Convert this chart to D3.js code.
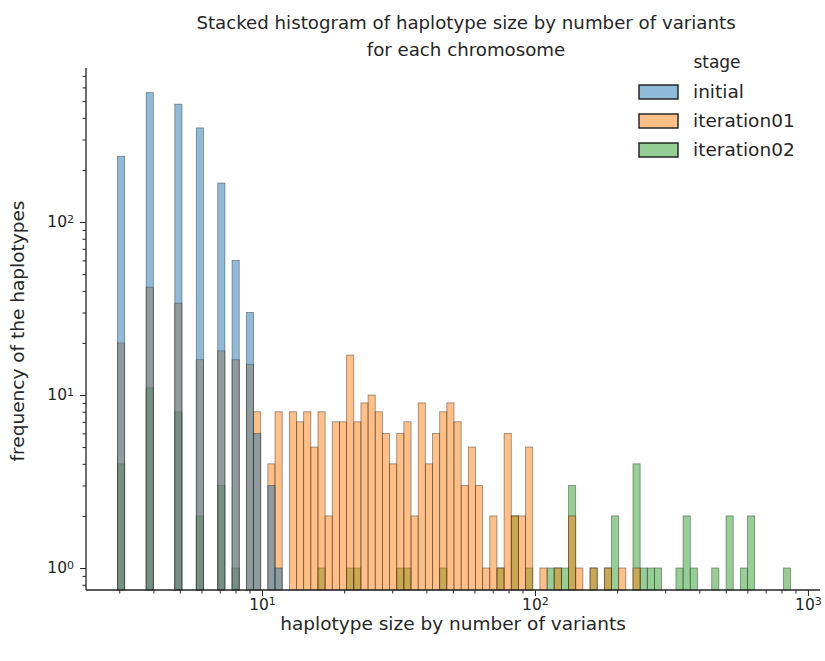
<!DOCTYPE html>
<html lang="en">
<head>
    <meta charset="UTF-8">
    <title>Stacked histogram of haplotype size</title>
    <script src="https://d3js.org/d3.v7.min.js"></script>
    <style>
        body { margin: 0; background: #ffffff; }
        text { font-family: "DejaVu Sans", sans-serif; fill: #262626; }
    </style>
</head>
<body>
<div class="chart"></div>
<script>
    // log-spaced histogram bins (edges in variant count)
    const binLow = 2.956
    const binHigh = 863
    const binCount = 94

    const stages = ['initial', 'iteration01', 'iteration02']
    const stageColors = ['#1f77b4', '#ff7f0e', '#2ca02c']

    // counts per bin (0 = empty bin)
    const initialCounts = [
        240, 0, 0, 0, 560, 0, 0, 0, 480, 0,
        0, 350, 0, 0, 168, 0, 60, 0, 30, 6,
        0, 3, 1, 0, 0, 0, 0, 0, 0, 0,
        0, 0, 0, 0, 0, 0, 0, 0, 0, 0,
        0, 0, 0, 0, 0, 0, 0, 0, 0, 0,
        0, 0, 0, 0, 0, 0, 0, 0, 0, 0,
        0, 0, 0, 0, 0, 0, 0, 0, 0, 0,
        0, 0, 0, 0, 0, 0, 0, 0, 0, 0,
        0, 0, 0, 0, 0, 0, 0, 0, 0, 0,
        0, 0, 0, 0
    ]
    const iteration01Counts = [
        20, 0, 0, 0, 42, 0, 0, 0, 34, 0,
        0, 16, 0, 0, 18, 0, 16, 0, 15, 8,
        0, 4, 8, 0, 8, 7, 8, 5, 8, 2,
        7, 7, 17, 7, 9, 10, 8, 6, 4, 6,
        7, 2, 9, 4, 6, 8, 9, 7, 3, 5,
        3, 1, 2, 1, 6, 2, 2, 5, 0, 1,
        0, 1, 0, 2, 1, 0, 1, 0, 1, 0,
        1, 0, 1, 0, 0, 0, 0, 0, 0, 0,
        0, 0, 0, 0, 0, 0, 0, 0, 0, 0,
        0, 0, 0, 0
    ]
    const iteration02Counts = [
        4, 0, 0, 0, 11, 0, 0, 0, 8, 0,
        0, 2, 0, 0, 3, 0, 1, 0, 0, 0,
        0, 0, 0, 0, 0, 0, 0, 0, 1, 0,
        0, 0, 1, 1, 0, 0, 0, 0, 0, 1,
        1, 0, 0, 0, 0, 1, 0, 0, 0, 0,
        0, 0, 0, 1, 0, 2, 0, 1, 0, 0,
        1, 1, 1, 3, 0, 0, 1, 0, 1, 2,
        0, 0, 4, 1, 1, 1, 0, 0, 1, 2,
        1, 0, 0, 1, 0, 2, 0, 1, 2, 0,
        0, 0, 0, 1
    ]
    const stageCounts = [initialCounts, iteration01Counts, iteration02Counts]

    const xMajorTicks = [10, 100, 1000]
    const yMajorTicks = [1, 10, 100]

    const dimensions = {
        width: 825,
        height: 661,
        left: 86,
        right: 820,
        top: 68,
        bottom: 590
    }

    const svg = d3.select('.chart')
        .append('svg')
        .attr('width', dimensions.width)
        .attr('height', dimensions.height)

    const xScale = d3.scaleLog()
        .domain([2.266, 1107])
        .range([dimensions.left, dimensions.right])
    const yScale = d3.scaleLog()
        .domain([0.746, 777])
        .range([dimensions.bottom, dimensions.top])

    // bin edges, evenly spaced in log space
    const logStep = (Math.log10(binHigh) - Math.log10(binLow)) / binCount
    const binEdge = i => Math.pow(10, Math.log10(binLow) + i * logStep)

    // bars: last stage drawn first so "initial" sits on top
    for (let s = stages.length - 1; s >= 0; s--) {
        const bars = stageCounts[s]
            .map((c, i) => ({ i: i, count: c }))
            .filter(d => d.count > 0)
        svg.append('g')
            .attr('class', 'stage-' + stages[s])
            .selectAll('rect')
            .data(bars)
            .enter()
            .append('rect')
            .attr('x', d => xScale(binEdge(d.i)))
            .attr('width', d => xScale(binEdge(d.i + 1)) - xScale(binEdge(d.i)))
            .attr('y', d => yScale(d.count))
            .attr('height', d => dimensions.bottom - yScale(d.count))
            .attr('fill', stageColors[s])
            .attr('fill-opacity', 0.5)
            .attr('stroke', '#222')
            .attr('stroke-opacity', 0.5)
            .attr('stroke-width', 0.8)
    }

    // minor ticks for a log axis between the domain ends
    function minorTicks(domain) {
        const out = []
        for (let e = Math.floor(Math.log10(domain[0])); e <= Math.ceil(Math.log10(domain[1])); e++) {
            for (let m = 2; m <= 9; m++) {
                const v = m * Math.pow(10, e)
                if (v >= domain[0] && v <= domain[1]) out.push(v)
            }
        }
        return out
    }

    function powerLabel(sel) {
        sel.selectAll('.tick text').each(function (d) {
            const t = d3.select(this).text(null)
            t.append('tspan').text('10')
            t.append('tspan')
                .attr('dy', '-0.45em')
                .style('font-size', '11px')
                .text(Math.round(Math.log10(d)))
        })
    }

    // X axis
    const xAxisG = svg.append('g')
        .attr('transform', 'translate(0,' + dimensions.bottom + ')')
    xAxisG.append('g')
        .call(d3.axisBottom(xScale).tickValues(minorTicks(xScale.domain())).tickSize(3.5).tickFormat(''))
    xAxisG.append('g')
        .call(d3.axisBottom(xScale).tickValues(xMajorTicks).tickSize(6).tickPadding(3))
        .call(powerLabel)
    xAxisG.selectAll('.domain').remove()
    xAxisG.append('line')
        .attr('x1', dimensions.left).attr('x2', dimensions.right)
        .attr('stroke', '#262626').attr('stroke-width', 1.3)

    // Y axis
    const yAxisG = svg.append('g')
        .attr('transform', 'translate(' + dimensions.left + ',0)')
    yAxisG.append('g')
        .call(d3.axisLeft(yScale).tickValues(minorTicks(yScale.domain())).tickSize(3.5).tickFormat(''))
    yAxisG.append('g')
        .call(d3.axisLeft(yScale).tickValues(yMajorTicks).tickSize(6).tickPadding(6))
        .call(powerLabel)
    yAxisG.selectAll('.domain').remove()
    yAxisG.append('line')
        .attr('y1', dimensions.top).attr('y2', dimensions.bottom)
        .attr('stroke', '#262626').attr('stroke-width', 1.3)

    svg.selectAll('.tick line').attr('stroke', '#262626').attr('stroke-width', 1)
    svg.selectAll('.tick text').style('font-size', '15.5px').attr('fill', '#262626')

    // axis labels and title
    svg.append('text')
        .attr('x', 453).attr('y', 630)
        .attr('text-anchor', 'middle')
        .style('font-size', '18.5px')
        .text('haplotype size by number of variants')
    svg.append('text')
        .attr('transform', 'translate(24,331) rotate(-90)')
        .attr('text-anchor', 'middle')
        .style('font-size', '18.5px')
        .text('frequency of the haplotypes')
    svg.append('text')
        .attr('x', 466).attr('y', 29)
        .attr('text-anchor', 'middle')
        .style('font-size', '18.2px')
        .text('Stacked histogram of haplotype size by number of variants')
    svg.append('text')
        .attr('x', 466).attr('y', 56)
        .attr('text-anchor', 'middle')
        .style('font-size', '18.2px')
        .text('for each chromosome')

    // legend
    const legend = svg.append('g')
    legend.append('text')
        .attr('x', 717).attr('y', 68)
        .attr('text-anchor', 'middle')
        .style('font-size', '17px')
        .text('stage')
    stages.forEach((name, i) => {
        const cy = 92 + i * 29
        legend.append('rect')
            .attr('x', 639).attr('y', cy - 7)
            .attr('width', 39).attr('height', 14)
            .attr('fill', stageColors[i])
            .attr('fill-opacity', 0.5)
            .attr('stroke', '#1a1a1a')
            .attr('stroke-width', 1.4)
        legend.append('text')
            .attr('x', 693).attr('y', cy + 6)
            .style('font-size', '18.5px')
            .text(name)
    })
</script>
</body>
</html>
